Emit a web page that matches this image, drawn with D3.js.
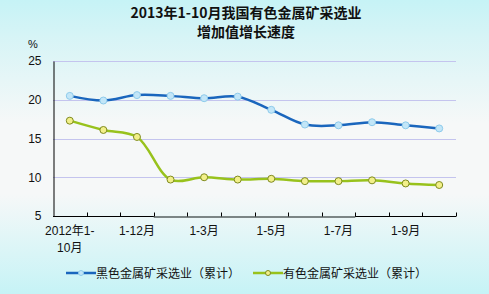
<!DOCTYPE html>
<html lang="zh">
<head>
<meta charset="UTF-8">
<script src="https://d3js.org/d3.v7.min.js"></script>
<style>
  body { margin: 0; }
  svg { display: block; font-family: "Liberation Sans", Arial, "Noto Sans CJK SC", sans-serif; }
  .grid line { stroke: #c4c4ee; stroke-width: 1px; }
  .tick text { font-size: 12px; fill: #111; }
</style>
</head>
<body>
<svg id="chart" width="489" height="294"></svg>
<script>
  // categories and series (cumulative growth, %)
  const categories = ["2012年1-10月", "1-11月", "1-12月", "1-2月", "1-3月", "1-4月",
                      "1-5月", "1-6月", "1-7月", "1-8月", "1-9月", "1-10月"];
  const shownLabels = ["2012年1-10月", "1-12月", "1-3月", "1-5月", "1-7月", "1-9月"];
  const ferrous = [20.5, 19.9, 20.6, 20.5, 20.2, 20.4, 18.7, 16.8, 16.7, 17.1, 16.7, 16.3];
  const nonferrous = [17.3, 16.1, 15.2, 9.7, 10.0, 9.7, 9.8, 9.5, 9.5, 9.6, 9.2, 9.0];
  const yTicks = [5, 10, 15, 20, 25];
  const seriesNames = ["黑色金属矿采选业（累计）", "有色金属矿采选业（累计）"];

  const W = 489, H = 294;
  const margin = { left: 53, right: 33, top: 61, bottom: 78 };
  const svg = d3.select("#chart");

  // background gradient
  const defs = svg.append("defs");
  const grad = defs.append("linearGradient").attr("id", "bg")
    .attr("x1", 0).attr("y1", 0).attr("x2", 0).attr("y2", 1);
  grad.append("stop").attr("offset", "0%").attr("stop-color", "#c6f3f6");
  grad.append("stop").attr("offset", "12%").attr("stop-color", "#d6f4f6");
  grad.append("stop").attr("offset", "42%").attr("stop-color", "#f6f8f8");
  grad.append("stop").attr("offset", "66%").attr("stop-color", "#f6f8f8");
  grad.append("stop").attr("offset", "100%").attr("stop-color", "#c6f3f6");
  svg.append("rect").attr("width", W).attr("height", H).attr("fill", "url(#bg)");

  // title
  const title = svg.append("text").attr("x", 246).attr("text-anchor", "middle")
    .style("font-family", "'Noto Sans CJK SC', sans-serif")
    .style("font-weight", "bold").style("font-size", "14px").attr("fill", "#111");
  title.append("tspan").attr("x", 246).attr("y", 18).text("2013年1-10月我国有色金属矿采选业");
  title.append("tspan").attr("x", 246).attr("y", 37).text("增加值增长速度");

  svg.append("text").attr("x", 28).attr("y", 48).style("font-size", "11px").attr("fill", "#111").text("%");

  const x = d3.scaleBand().domain(categories).range([margin.left, W - margin.right]);
  const y = d3.scaleLinear().domain([5, 25]).range([H - margin.bottom, margin.top]);

  // gridlines
  svg.append("g").attr("class", "grid")
    .selectAll("line").data(yTicks.slice(1)).join("line")
    .attr("x1", margin.left).attr("x2", W - margin.right)
    .attr("y1", d => Math.round(y(d)) + 0.5).attr("y2", d => Math.round(y(d)) + 0.5);

  // y axis
  const yAxis = svg.append("g").attr("transform", `translate(${margin.left + 0.5},0)`)
    .call(d3.axisLeft(y).tickValues(yTicks).tickSize(0).tickPadding(12));
  yAxis.select(".domain").attr("stroke", "#000");
  yAxis.selectAll(".tick text").style("font-size", "12px");

  // x axis: ticks at band boundaries, pointing up
  const bounds = categories.map(c => x(c)).concat([x.range()[1]]);
  const xg = svg.append("g");
  const baseY = Math.round(y(5)) + 0.5;
  xg.append("line").attr("x1", margin.left).attr("x2", W - margin.right)
    .attr("y1", baseY).attr("y2", baseY).attr("stroke", "#000");
  // grey overlay on part of the axis, as in the source
  xg.append("line").attr("x1", x("1-2月")).attr("x2", x("1-8月"))
    .attr("y1", baseY + 0.5).attr("y2", baseY + 0.5).attr("stroke", "#7b8585").attr("stroke-width", 2);
  xg.selectAll("line.tk").data(bounds.slice(1)).join("line").attr("class", "tk")
    .attr("x1", d => Math.round(d) + 0.5).attr("x2", d => Math.round(d) + 0.5)
    .attr("y1", baseY - 4).attr("y2", baseY).attr("stroke", "#000");

  const lab = xg.selectAll("text.xl").data(shownLabels).join("text").attr("class", "xl")
    .attr("text-anchor", "middle").style("font-size", "12px").attr("fill", "#111");
  lab.each(function (d) {
    const cx = x(d) + x.bandwidth() / 2;
    const t = d3.select(this);
    if (d.startsWith("2012")) {
      t.append("tspan").attr("x", cx).attr("y", 235).text("2012年1-");
      t.append("tspan").attr("x", cx).attr("y", 252).text("10月");
    } else {
      t.append("tspan").attr("x", cx).attr("y", 235).text(d);
    }
  });

  const cx = c => x(c) + x.bandwidth() / 2;
  const line = d3.line().x((d, i) => cx(categories[i])).y(d => y(d)).curve(d3.curveCatmullRom);

  const styles = [
    { data: ferrous, stroke: "#1a66bd", fill: "#c2e6f8", mstroke: "#8ecbeb" },
    { data: nonferrous, stroke: "#98c21c", fill: "#f2f08a", mstroke: "#7f8a1e" }
  ];

  styles.forEach(s => {
    svg.append("path").datum(s.data).attr("d", line)
      .attr("fill", "none").attr("stroke", s.stroke).attr("stroke-width", 2.5);
    svg.append("g").selectAll("circle").data(s.data).join("circle")
      .attr("cx", (d, i) => cx(categories[i])).attr("cy", d => y(d)).attr("r", 3.5)
      .attr("fill", s.fill).attr("stroke", s.mstroke).attr("stroke-width", 1);
  });

  // legend
  const legendX = [66, 253];
  styles.forEach((s, i) => {
    const g = svg.append("g").attr("transform", `translate(${legendX[i]},273)`);
    g.append("line").attr("x1", 0).attr("x2", 30).attr("stroke", s.stroke).attr("stroke-width", 2.5);
    g.append("circle").attr("cx", 15).attr("r", 2.5).attr("fill", s.fill).attr("stroke", s.mstroke);
    g.append("text").attr("x", 30).attr("y", 5).style("font-size", "12px")
      .style("font-family", "'Noto Sans CJK SC', sans-serif").attr("fill", "#111").text(seriesNames[i]);
  });
</script>
</body>
</html>
